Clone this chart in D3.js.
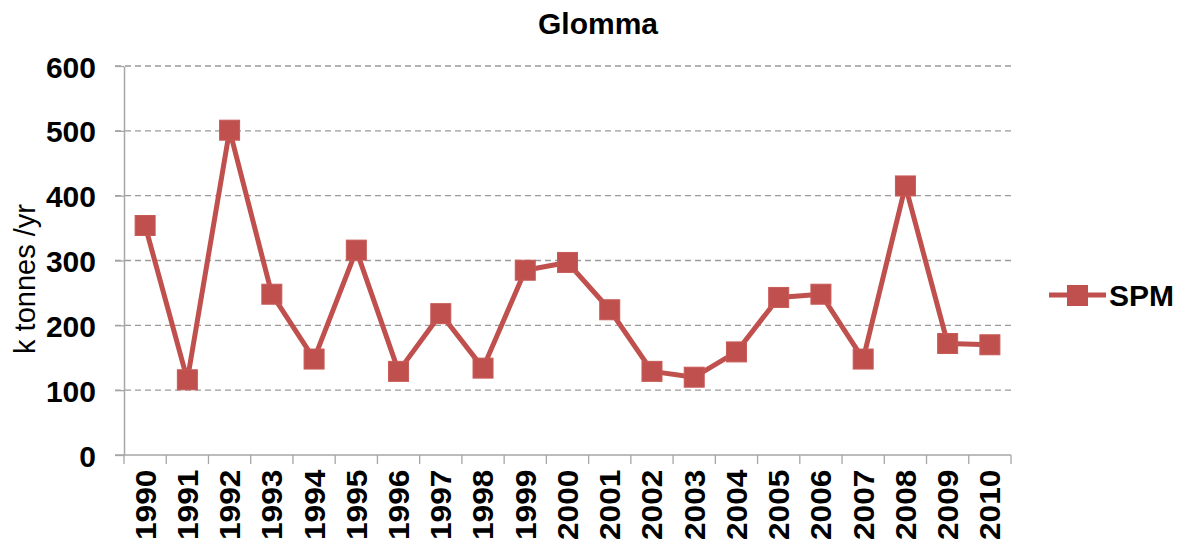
<!DOCTYPE html>
<html>
<head>
<meta charset="utf-8">
<script src="https://cdn.jsdelivr.net/npm/d3@7"></script>
<style>
  html, body { margin: 0; padding: 0; background: #fff; }
  svg { display: block; font-family: "Liberation Sans", Arial, sans-serif; }
</style>
</head>
<body>
<svg id="chart" width="1184" height="545"></svg>
<script>
const years = ["1990","1991","1992","1993","1994","1995","1996","1997","1998","1999","2000",
               "2001","2002","2003","2004","2005","2006","2007","2008","2009","2010"];
const spm = [354, 116, 501, 248, 148, 316, 129, 218, 134, 285, 297,
             224, 129, 120, 159, 243, 248, 148, 415, 172, 170];
const yTicks = [0, 100, 200, 300, 400, 500, 600];
const seriesName = "SPM";
const chartTitle = "Glomma";
const yTitle = "k tonnes /yr";

(function () {
const svg = d3.select("#chart");
const pL = 124, pR = 1011, pT = 66, pB = 455;
const red = "#c0504d";

const x = d3.scaleBand().domain(years).range([pL, pR]).padding(0);
const y = d3.scaleLinear().domain([0, 600]).range([pB, pT]);

// gridlines
svg.append("g").selectAll("line").data(yTicks.filter(d => d > 0)).join("line")
  .attr("x1", 115).attr("x2", pR)
  .attr("y1", d => y(d)).attr("y2", d => y(d))
  .attr("stroke", "#9a9a9a").attr("stroke-width", 1.3)
  .attr("stroke-dasharray", "6,4");

// y axis
const gy = svg.append("g").attr("transform", `translate(${pL},0)`)
  .call(d3.axisLeft(y).tickValues(yTicks).tickSize(9).tickSizeOuter(0).tickPadding(19));
gy.select(".domain").attr("stroke", "#a6a6a6").attr("stroke-width", 1.5);
gy.selectAll(".tick line").attr("stroke", "#a6a6a6").attr("stroke-width", 1.3);
gy.selectAll(".tick text").attr("font-size", 30).attr("font-weight", "bold")
  .attr("fill", "#000").attr("font-family", "Liberation Sans, Arial, sans-serif")
  .attr("dy", "0.37em");

// x axis
const gx = svg.append("g").attr("transform", `translate(0,${pB})`)
  .call(d3.axisBottom(x).tickSize(0).tickSizeOuter(0));
gx.select(".domain").attr("stroke", "#a6a6a6").attr("stroke-width", 1.5)
  .attr("d", `M115,0H${pR}`);
gx.selectAll(".tick text")
  .attr("font-size", 29).attr("font-weight", "bold").attr("fill", "#000")
  .attr("font-family", "Liberation Sans, Arial, sans-serif")
  .attr("transform", "rotate(-90) scale(1.09,1)")
  .attr("text-anchor", "end")
  .attr("x", -13.5).attr("y", 0).attr("dy", "0.36em");
// boundary tick marks
const bounds = years.map(d => x(d)).concat([x(years[years.length - 1]) + x.bandwidth()]);
gx.append("g").selectAll("line").data(bounds).join("line")
  .attr("x1", d => d).attr("x2", d => d).attr("y1", 0).attr("y2", 9)
  .attr("stroke", "#a6a6a6").attr("stroke-width", 1.3);

// series line
const cx = d => x(d) + x.bandwidth() / 2;
const line = d3.line().x((d, i) => cx(years[i])).y(d => y(d));
svg.append("path").datum(spm)
  .attr("d", line).attr("fill", "none")
  .attr("stroke", red).attr("stroke-width", 5).attr("stroke-linejoin", "round");

// markers
const ms = 20;
svg.append("g").selectAll("rect").data(spm).join("rect")
  .attr("x", (d, i) => cx(years[i]) - ms / 2)
  .attr("y", d => y(d) - ms / 2)
  .attr("width", ms).attr("height", ms)
  .attr("fill", red).attr("stroke", "#c85a57").attr("stroke-width", 1);

// title
svg.append("text").attr("x", 598).attr("y", 34).attr("text-anchor", "middle")
  .attr("font-size", 30).attr("font-weight", "bold").attr("fill", "#000")
  .text(chartTitle);

// y title
svg.append("text").attr("transform", "translate(35,279) rotate(-90)")
  .attr("text-anchor", "middle").attr("font-size", 29).attr("fill", "#000")
  .text(yTitle);

// legend
const lg = svg.append("g");
lg.append("line").attr("x1", 1049).attr("x2", 1106).attr("y1", 295).attr("y2", 295)
  .attr("stroke", red).attr("stroke-width", 5);
lg.append("rect").attr("x", 1067).attr("y", 285).attr("width", 21).attr("height", 21)
  .attr("fill", red);
lg.append("text").attr("x", 1109).attr("y", 306).attr("font-size", 30)
  .attr("font-weight", "bold").attr("fill", "#000").text(seriesName);
})();
</script>
</body>
</html>
